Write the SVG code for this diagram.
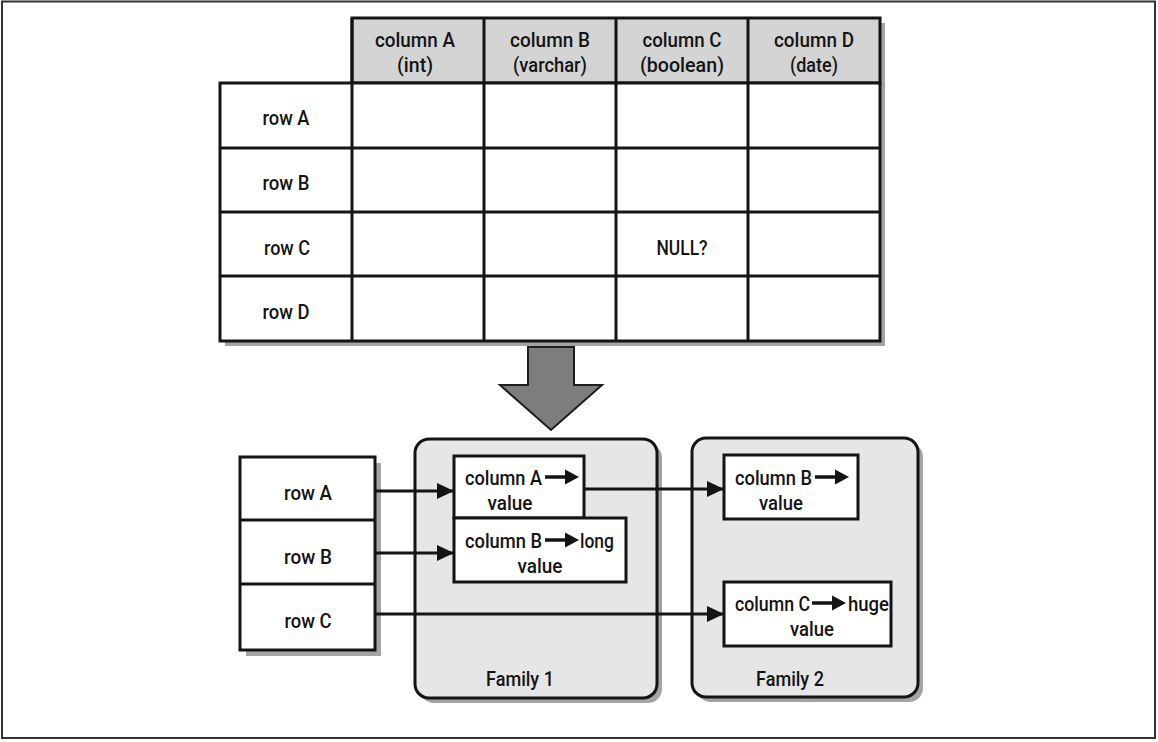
<svg xmlns="http://www.w3.org/2000/svg" xmlns:xlink="http://www.w3.org/1999/xlink" width="1158" height="742" viewBox="0 0 1158 742">
  <style>
    .t { font-family: Roboto, "Liberation Sans", sans-serif; font-weight: 500; font-size: 21px; fill: #141414; }
    .c { text-anchor: middle; }
    .grid { fill: none; stroke: #141414; stroke-width: 3; }
    .cell { fill: #ffffff; stroke: #141414; stroke-width: 3; }
    .head { fill: #d4d4d4; stroke: #141414; stroke-width: 3; }
    .shadow { fill: #a3a3a3; }
    .family { fill: #e6e6e6; stroke: #141414; stroke-width: 3; }
    .edge { fill: none; stroke: #141414; stroke-width: 3; }
  </style>
  <defs>
    <marker id="head" viewBox="0 0 17 16" refX="16" refY="8" markerWidth="17" markerHeight="16" markerUnits="userSpaceOnUse" orient="auto">
      <path d="M0,0 L17,8 L0,16 z" fill="#141414"/>
    </marker>
    <!-- small arrow used inside the cell labels -->
    <g id="inlineArrow">
      <path d="M0,0 H22" stroke="#141414" stroke-width="3.5"/>
      <path d="M20,-7.5 L34,0 L20,7.5 z" fill="#141414"/>
    </g>
  </defs>

  <!-- outer frame -->
  <rect x="2" y="1.5" width="1153" height="736.5" fill="#ffffff" stroke="#333" stroke-width="2"/>

  <!-- relational table -->
  <g id="table">
    <path class="shadow" d="M357,23 H885 V346 H225 V88 H357 z"/>
    <rect class="head" x="352" y="18" width="528" height="65"/>
    <rect class="cell" x="220" y="83" width="660" height="258"/>
    <path class="grid" d="M484,18 V341 M616,18 V341 M748,18 V341 M352,18 V341 M220,148 H880 M220,212 H880 M220,276 H880"/>
    <g id="hdr-a"><text class="t c" x="415" y="47" textLength="80" lengthAdjust="spacingAndGlyphs">column A</text><text class="t c" x="415" y="72" textLength="36" lengthAdjust="spacingAndGlyphs">(int)</text></g>
    <g id="hdr-b"><text class="t c" x="550" y="47" textLength="80" lengthAdjust="spacingAndGlyphs">column B</text><text class="t c" x="550" y="72" textLength="74" lengthAdjust="spacingAndGlyphs">(varchar)</text></g>
    <g id="hdr-c"><text class="t c" x="682" y="47" textLength="79" lengthAdjust="spacingAndGlyphs">column C</text><text class="t c" x="682" y="72" textLength="84" lengthAdjust="spacingAndGlyphs">(boolean)</text></g>
    <g id="hdr-d"><text class="t c" x="814" y="47" textLength="80" lengthAdjust="spacingAndGlyphs">column D</text><text class="t c" x="814" y="72" textLength="48" lengthAdjust="spacingAndGlyphs">(date)</text></g>
    <g id="tbl-row-a"><text class="t c" x="286" y="125" textLength="47" lengthAdjust="spacingAndGlyphs">row A</text></g>
    <g id="tbl-row-b"><text class="t c" x="286" y="190" textLength="47" lengthAdjust="spacingAndGlyphs">row B</text></g>
    <g id="tbl-row-c"><text class="t c" x="287" y="255" textLength="46" lengthAdjust="spacingAndGlyphs">row C</text></g>
    <g id="tbl-row-d"><text class="t c" x="286" y="319" textLength="47" lengthAdjust="spacingAndGlyphs">row D</text></g>
    <g id="null-cell"><text class="t c" x="682" y="255" textLength="51" lengthAdjust="spacingAndGlyphs">NULL?</text></g>
  </g>

  <!-- transformation arrow -->
  <g id="transform-arrow">
    <path d="M528,347 H574 V385 H602 L551,430 L500,385 H528 z" fill="#7d7d7d" stroke="#1e1e1e" stroke-width="2"/>
  </g>

  <!-- row keys -->
  <g id="rows">
    <rect class="shadow" x="246" y="463" width="135" height="193"/>
    <rect class="cell" x="240" y="457" width="135" height="193"/>
    <path class="grid" d="M240,520 H375 M240,584 H375"/>
    <text class="t c" x="308" y="500" textLength="48" lengthAdjust="spacingAndGlyphs">row A</text>
    <text class="t c" x="308" y="564" textLength="48" lengthAdjust="spacingAndGlyphs">row B</text>
    <text class="t c" x="308" y="628" textLength="47" lengthAdjust="spacingAndGlyphs">row C</text>
  </g>

  <!-- column family 1 -->
  <g id="family1">
    <rect class="shadow" x="420" y="444" width="242" height="259" rx="14"/>
    <rect class="family" x="415" y="439" width="242" height="259" rx="14"/>
    <text class="t c" x="520" y="686" textLength="68" lengthAdjust="spacingAndGlyphs">Family 1</text>
  </g>

  <!-- column family 2 -->
  <g id="family2">
    <rect class="shadow" x="697" y="443" width="226" height="259" rx="14"/>
    <rect class="family" x="692" y="438" width="226" height="259" rx="14"/>
    <text class="t c" x="790" y="686" textLength="68" lengthAdjust="spacingAndGlyphs">Family 2</text>
  </g>

  <g id="cell-a-value">
    <rect class="cell" x="454" y="456" width="130" height="62"/>
    <text class="t" x="465" y="485" textLength="77" lengthAdjust="spacingAndGlyphs">column A</text>
    <use xlink:href="#inlineArrow" x="545" y="477"/>
    <text class="t c" x="510" y="510" textLength="45" lengthAdjust="spacingAndGlyphs">value</text>
  </g>

  <g id="cell-b-long">
    <rect class="cell" x="454" y="518" width="172" height="64"/>
    <text class="t" x="465" y="548" textLength="77" lengthAdjust="spacingAndGlyphs">column B</text>
    <use xlink:href="#inlineArrow" x="545" y="540"/>
    <text class="t" x="580" y="548" textLength="34" lengthAdjust="spacingAndGlyphs">long</text>
    <text class="t c" x="540" y="573" textLength="45" lengthAdjust="spacingAndGlyphs">value</text>
  </g>

  <g id="cell-b-value">
    <rect class="cell" x="724" y="455" width="134" height="64"/>
    <text class="t" x="735" y="485" textLength="77" lengthAdjust="spacingAndGlyphs">column B</text>
    <use xlink:href="#inlineArrow" x="815" y="477"/>
    <text class="t c" x="781" y="510" textLength="44" lengthAdjust="spacingAndGlyphs">value</text>
  </g>

  <g id="cell-c-huge">
    <rect class="cell" x="724" y="582" width="167" height="64"/>
    <text class="t" x="735" y="611" textLength="75" lengthAdjust="spacingAndGlyphs">column C</text>
    <use xlink:href="#inlineArrow" x="812" y="603"/>
    <text class="t" x="848" y="611" textLength="41" lengthAdjust="spacingAndGlyphs">huge</text>
    <text class="t c" x="812" y="636" textLength="44" lengthAdjust="spacingAndGlyphs">value</text>
  </g>

  <!-- connectors -->
  <g id="connectors">
    <path class="edge" d="M375,491 H453" marker-end="url(#head)"/>
    <path class="edge" d="M375,553 H453" marker-end="url(#head)"/>
    <path class="edge" d="M584,489 H723" marker-end="url(#head)"/>
    <path class="edge" d="M375,614 H723" marker-end="url(#head)"/>
  </g>
</svg>
